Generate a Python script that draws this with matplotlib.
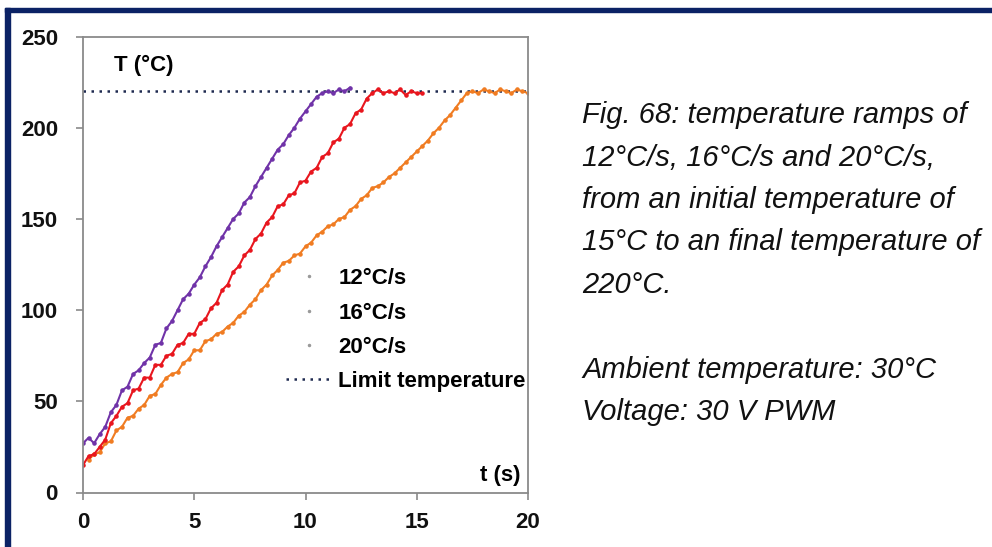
"""Temperature ramp chart (Fig. 68) with caption text on the right."""

import numpy as np
import matplotlib
matplotlib.use("Agg")
import matplotlib.pyplot as plt
from matplotlib.patches import Rectangle

# --------------------------------------------------------------------------
# data (logger samples every 0.25 s)
# --------------------------------------------------------------------------
STEP = 0.25

t_fast0, t_mid0, t_slow0 = 0.0, 0.0, 0.25

temp_fast = [27, 30, 27, 32, 36, 44, 48, 56, 58, 65, 67, 71, 74, 81, 82, 90,
             94, 100, 106, 109, 114, 118, 124, 129, 135, 140, 145, 150, 153,
             159, 162, 168, 173, 178, 183, 188, 191, 196, 200, 205, 209, 213,
             217, 219, 220, 219, 221, 220, 222]
temp_mid = [15, 20, 21, 25, 29, 38, 42, 47, 49, 56, 57, 63, 63, 70, 70, 75,
            76, 81, 82, 87, 87, 93, 95, 101, 104, 111, 114, 121, 124, 130,
            133, 139, 142, 148, 151, 157, 158, 163, 164, 170, 171, 176, 178,
            184, 186, 192, 194, 200, 202, 208, 210, 216, 219, 221, 219, 220,
            219, 221, 218, 220, 219, 219]
temp_slow = [18, 21, 22, 27, 28, 34, 36, 41, 42, 46, 48, 53, 54, 59, 63, 65,
             66, 71, 73, 78, 78, 83, 84, 87, 88, 91, 93, 97, 99, 103, 106,
             111, 114, 119, 122, 126, 127, 130, 131, 135, 137, 141, 143, 146,
             147, 150, 151, 155, 157, 161, 163, 167, 168, 170, 173, 175, 178,
             181, 184, 187, 190, 193, 197, 200, 204, 207, 211, 215, 219, 220,
             219, 221, 220, 219, 221, 220, 219, 221, 220, 219]

limit_temp = 220
series_labels = ["12°C/s", "16°C/s", "20°C/s"]
x_ticks = [0, 5, 10, 15, 20]
y_ticks = [0, 50, 100, 150, 200, 250]

caption_lines = [
    "Fig. 68: temperature ramps of",
    "12°C/s, 16°C/s and 20°C/s,",
    "from an initial temperature of",
    "15°C to an final temperature of",
    "220°C.",
    "",
    "Ambient temperature: 30°C",
    "Voltage: 30 V PWM",
]

# --------------------------------------------------------------------------
# styling
# --------------------------------------------------------------------------
SANS = ["Liberation Sans", "DejaVu Sans"]
COL_SLOW, COL_MID, COL_FAST = "#F07C22", "#E8161E", "#7033A8"
NAVY = "#0B2265"
FRAME = "#8a8a8a"
BOLD_SIZE = 16

W, H = 992, 547
fig = plt.figure(figsize=(W / 100, H / 100), dpi=100)
fig.patch.set_facecolor("white")

# axes placed in pixel terms of the reference
x0, x1, y_top, y_bot = 83, 528, 36.6, 492.5
ax = fig.add_axes([x0 / W, (H - y_bot) / H, (x1 - x0) / W, (y_bot - y_top) / H])


def times(start, values):
    return start + STEP * np.arange(len(values))


series = [
    (times(t_slow0, temp_slow), temp_slow, COL_SLOW, series_labels[0]),
    (times(t_mid0, temp_mid), temp_mid, COL_MID, series_labels[1]),
    (times(t_fast0, temp_fast), temp_fast, COL_FAST, series_labels[2]),
]
for tt, vals, col, lab in series:
    ax.plot(tt, vals, color=col, lw=1.5, marker=".", ms=4.5, label=lab)

ax.axhline(limit_temp, color="#1f2a50", lw=1.8, ls=(0, (1, 2.2)),
           label="Limit temperature", zorder=1)

ax.set_xlim(0, 20)
ax.set_ylim(0, 250)
ax.set_xticks(x_ticks)
ax.set_yticks(y_ticks)
for s in ax.spines.values():
    s.set_color(FRAME)
    s.set_linewidth(1.3)
ax.tick_params(axis="both", direction="out", length=5, width=1.2, color=FRAME)
ax.tick_params(axis="y", pad=13)
ax.tick_params(axis="x", pad=9)
for lab in ax.get_xticklabels() + ax.get_yticklabels():
    lab.set_fontfamily(SANS)
    lab.set_fontweight("bold")
    lab.set_fontsize(BOLD_SIZE)
    lab.set_color("#111111")

ax.text(0.07, 0.9245, "T (°C)", transform=ax.transAxes, family=SANS,
        weight="bold", fontsize=BOLD_SIZE, va="baseline", ha="left")
ax.text(0.984, 0.025, "t (s)", transform=ax.transAxes, family=SANS,
        weight="bold", fontsize=BOLD_SIZE, va="baseline", ha="right")

leg = ax.legend(loc="upper left", bbox_to_anchor=(0.456, 0.492), frameon=False,
                borderpad=0, borderaxespad=0, handlelength=2.05,
                handletextpad=0.3, labelspacing=0.6,
                prop={"family": SANS, "weight": "bold", "size": BOLD_SIZE})
for h in leg.legend_handles[:3]:
    h.set_linestyle("none")
    h.set_color("#9a9a9a")
    h.set_markersize(3)

# caption on the right
cap_x, cap_y0, cap_dy = 582, 123, 42.5
for i, line in enumerate(caption_lines):
    fig.text(cap_x / W, (H - (cap_y0 + i * cap_dy)) / H, line, family=SANS,
             style="italic", fontsize=21, va="baseline", ha="left",
             color="#111111")

# navy frame along the top and left edges
fig.patches.append(Rectangle((5 / W, 0), 5 / W, (H - 8) / H,
                             transform=fig.transFigure, color=NAVY, zorder=5))
fig.patches.append(Rectangle((5 / W, (H - 12) / H), (W - 5) / W, 4 / H,
                             transform=fig.transFigure, color=NAVY, zorder=5))

fig.savefig("out.png", dpi=100)
